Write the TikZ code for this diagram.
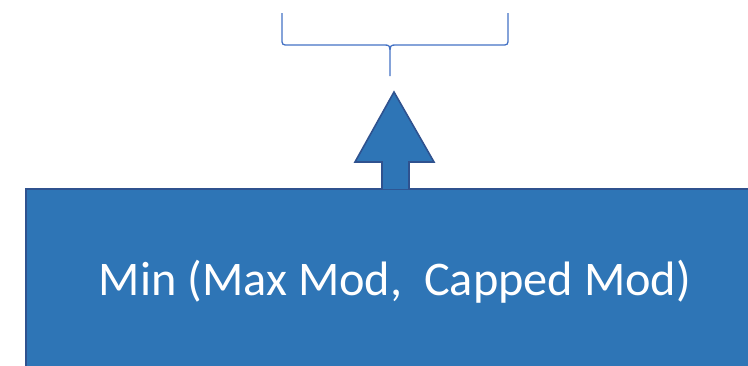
\documentclass[tikz,border=0pt]{standalone}
\usepackage{fontspec}
\setmainfont{Carlito}
\definecolor{boxfill}{HTML}{2E75B6}
\definecolor{boxline}{HTML}{2F528F}
\definecolor{bracecol}{HTML}{4472C4}
\begin{document}
\begin{tikzpicture}[x=1bp,y=-1bp,
  blockstyle/.style={fill=boxfill,draw=boxline,line width=1.6bp},
  bracestyle/.style={draw=bracecol,line width=1.3bp}]
\useasboundingbox (0,0) rectangle (748,365);
\begin{scope}
\clip (0,0) rectangle (748,365);
\draw[blockstyle] (26,189) rectangle (760,380);
\end{scope}
\node[text=white,font=\fontsize{48.5}{55}\selectfont,anchor=base] (label) at (395,295) {Min (Max Mod,\ \ Capped Mod)};
\draw[blockstyle] (382,189) -- (382,162) -- (355,162) -- (394,92) -- (434,162) -- (409,162) -- (409,189);
\coordinate (bl) at (282,13);
\coordinate (br) at (508,13);
\coordinate (bt) at (390,76);
\draw[bracestyle] (bl) -- (282,38) .. controls (282,45) .. (289,45) -- (384,45) .. controls (390,45) .. (390,56) -- (bt)
  (br) -- (508,38) .. controls (508,45) .. (501,45) -- (396,45) .. controls (390,45) .. (390,56);
\end{tikzpicture}
\end{document}
